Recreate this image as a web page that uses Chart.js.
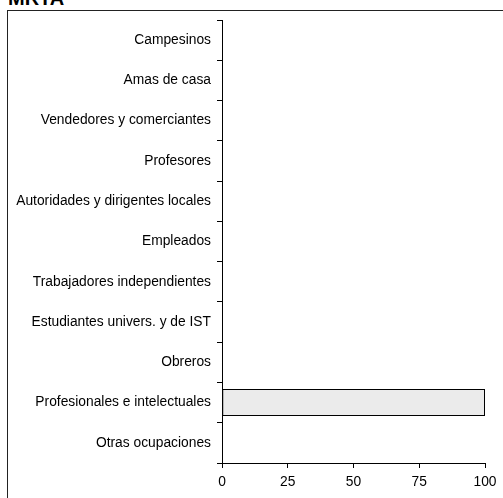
<!DOCTYPE html>
<html lang="es">
<head>
    <meta charset="UTF-8">
    <title>MRTA</title>
    <script src="https://cdn.jsdelivr.net/npm/chart.js"></script>
    <style>
        body {
            margin: 0;
            background: #fff;
            width: 503px;
            height: 498px;
            overflow: hidden;
            position: relative;
            font-family: "Liberation Sans", Arial, sans-serif;
        }
        .title {
            position: absolute;
            left: 8px;
            top: -12px;
            font-size: 20px;
            line-height: 20px;
            font-weight: bold;
            color: #000;
        }
        .frame {
            position: absolute;
            left: 7px;
            top: 10px;
            width: 520px;
            height: 520px;
            border: 1.5px solid #222;
        }
        .wrap {
            position: absolute;
            left: 0;
            top: 0;
            width: 503px;
            height: 498px;
        }
    </style>
</head>
<body>
    <div class="title">MRTA</div>
    <div class="frame"></div>
    <div class="wrap"><canvas id="chart"></canvas></div>

    <script>
        const categories = [
            'Campesinos',
            'Amas de casa',
            'Vendedores y comerciantes',
            'Profesores',
            'Autoridades y dirigentes locales',
            'Empleados',
            'Trabajadores independientes',
            'Estudiantes univers. y de IST',
            'Obreros',
            'Profesionales e intelectuales',
            'Otras ocupaciones'
        ];
        const values = [0, 0, 0, 0, 0, 0, 0, 0, 0, 100, 0];
        const xTicks = [0, 25, 50, 75, 100];

        const font = { family: '"Liberation Sans", Arial, sans-serif', size: 13.8 };

        new Chart(document.getElementById('chart'), {
            type: 'bar',
            data: {
                labels: categories,
                datasets: [{
                    data: values,
                    backgroundColor: '#ebebeb',
                    borderColor: '#000',
                    borderWidth: 1,
                    borderSkipped: false,
                    barPercentage: 0.67,
                    categoryPercentage: 1
                }]
            },
            options: {
                indexAxis: 'y',
                responsive: true,
                maintainAspectRatio: false,
                animation: false,
                layout: { padding: { top: 20, right: 18, bottom: 0, left: 0 } },
                plugins: {
                    legend: { display: false },
                    tooltip: { enabled: false }
                },
                scales: {
                    y: {
                        grid: { drawOnChartArea: false, tickLength: 5, tickColor: '#000' },
                        border: { color: '#000', width: 1 },
                        ticks: { color: '#000', font: font, padding: 6 },
                        afterFit: s => { s.width = 222; }
                    },
                    x: {
                        min: 0,
                        max: 100,
                        afterBuildTicks: s => { s.ticks = xTicks.map(v => ({ value: v })); },
                        grid: { drawOnChartArea: false, tickLength: 5, tickColor: '#000' },
                        border: { color: '#000', width: 1 },
                        ticks: { color: '#000', font: font, padding: 6, maxRotation: 0 },
                        afterFit: s => { s.height = 35; }
                    }
                }
            }
        });
    </script>
</body>
</html>
